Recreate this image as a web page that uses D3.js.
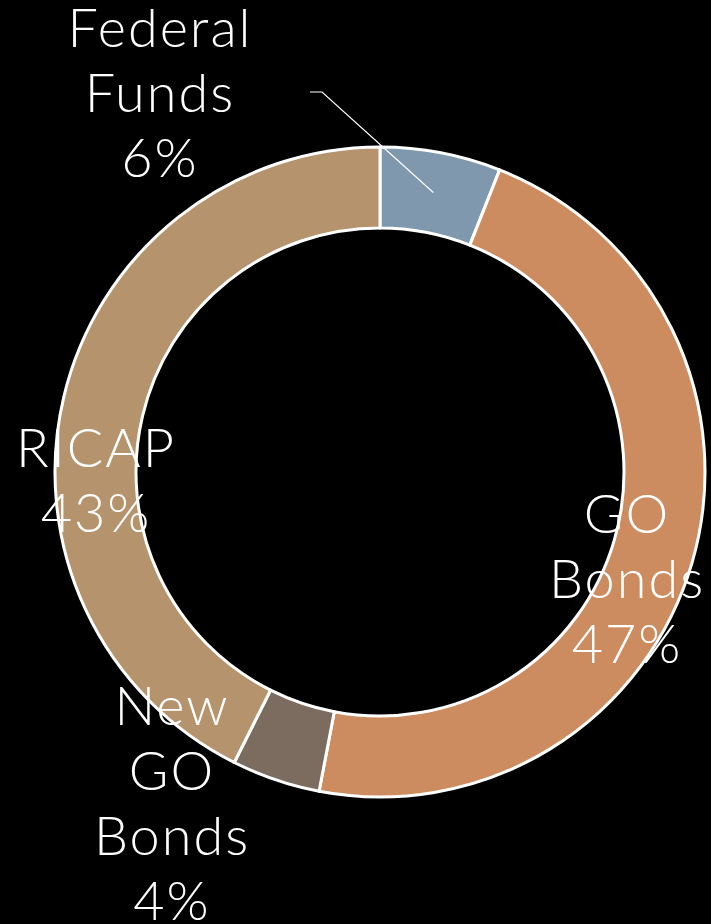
<!DOCTYPE html>
<html>
<head>
<meta charset="utf-8">
<script src="https://cdn.jsdelivr.net/npm/d3@7"></script>
<style>
  html, body { margin: 0; padding: 0; background: #000; }
  svg { display: block; }
</style>
</head>
<body>
<script>
// data
var categories = ['Federal Funds', 'GO Bonds', 'New GO Bonds', 'RICAP'];
var values = [6, 47, 4.4, 42.6];
var labelLines = [['Federal', 'Funds', '6%'], ['GO', 'Bonds', '47%'], ['New', 'GO', 'Bonds', '4%'], ['RICAP', '43%']];
var colors = ['#7f98ae', '#cc8c60', '#7c6b5f', '#b5946d'];

var w = 711, h = 924;
var cx = 380, cy = 472;
var outerR = 325, innerR = 244;

// where each label block sits (center x, first baseline), relative to chart center
var labelPos = [[-220, -425], [247, 61], [-208, 253], [-284, -5]];
var lineH = 65;

var svg = d3.select('body').append('svg')
    .attr('width', w)
    .attr('height', h);

var g = svg.append('g')
    .attr('transform', 'translate(' + cx + ',' + cy + ')');

var pie = d3.pie().sort(null).value(function(d) { return d; });
var arcs = pie(values);

var arc = d3.arc().innerRadius(innerR).outerRadius(outerR);

g.selectAll('path.slice')
  .data(arcs)
  .enter().append('path')
  .attr('class', 'slice')
  .attr('d', arc)
  .attr('fill', function(d, i) { return colors[i]; })
  .attr('stroke', '#fff')
  .attr('stroke-width', 3)
  .attr('stroke-linejoin', 'round');

// leader line for the small Federal Funds slice
var c = arc.centroid(arcs[0]);
var elbow = [-58, -380];
g.append('polyline')
  .attr('points', [c, elbow, [elbow[0] - 12, elbow[1]]].map(function(p) { return p.join(','); }).join(' '))
  .attr('fill', 'none')
  .attr('stroke', '#fff')
  .attr('stroke-width', 1.2);

var labels = g.selectAll('text.lbl')
  .data(labelLines)
  .enter().append('text')
  .attr('class', 'lbl')
  .attr('text-anchor', 'middle')
  .attr('font-family', '"Century Gothic", Lato, "DejaVu Sans", sans-serif')
  .attr('font-weight', 300)
  .attr('font-size', '54px')
  .attr('letter-spacing', '2px')
  .attr('fill', '#fff');

labels.each(function(lines, i) {
  var t = d3.select(this);
  lines.forEach(function(s, j) {
    t.append('tspan')
      .attr('x', labelPos[i][0])
      .attr('y', labelPos[i][1] + j * lineH)
      .text(s);
  });
});
</script>
</body>
</html>
